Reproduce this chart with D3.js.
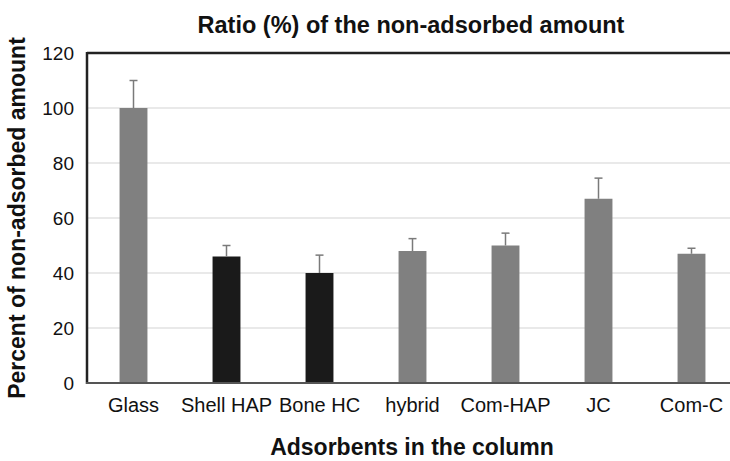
<!DOCTYPE html>
<html><head><meta charset="utf-8">
<script src="https://cdn.jsdelivr.net/npm/d3@7"></script>
<style>body{margin:0;background:#fff}svg{display:block}text{font-family:"Liberation Sans",Arial,sans-serif}</style>
</head><body><svg id="c" width="730" height="461"></svg>
<script>
const categories = ["Glass","Shell HAP","Bone HC","hybrid","Com-HAP","JC","Com-C"];
const values = [100, 46, 40, 48, 50, 67, 47];
const errors = [10, 4, 6.5, 4.5, 4.5, 7.5, 2];
const barColors = ["#808080","#1a1a1a","#1a1a1a","#808080","#808080","#808080","#808080"];
const yTicks = [0,20,40,60,80,100,120];

const svg = d3.select("#c");
const L = 87, R = 738, T = 53, B = 383;
const x = d3.scaleBand().domain(categories).range([L,R]).paddingInner(0.7).paddingOuter(0.35);
const y = d3.scaleLinear().domain([0,120]).range([B,T]);

// gridlines
svg.append("g").selectAll("line").data(yTicks.filter(t=>t>0&&t<120)).join("line")
  .attr("x1",L).attr("x2",730).attr("y1",d=>y(d)).attr("y2",d=>y(d))
  .attr("stroke","#e2e2e2").attr("stroke-width",1.5);

// bars
svg.append("g").selectAll("rect").data(categories).join("rect")
  .attr("x",d=>x(d)).attr("width",x.bandwidth())
  .attr("y",(d,i)=>y(values[i])).attr("height",(d,i)=>B-y(values[i]))
  .attr("fill",(d,i)=>barColors[i]);

// error bars
const eg = svg.append("g").attr("stroke","#7a7a7a").attr("stroke-width",1.5);
categories.forEach((c,i)=>{
  const cx = x(c)+x.bandwidth()/2;
  eg.append("line").attr("x1",cx).attr("x2",cx).attr("y1",y(values[i])).attr("y2",y(values[i]+errors[i]));
  eg.append("line").attr("x1",cx-4).attr("x2",cx+4).attr("y1",y(values[i]+errors[i])).attr("y2",y(values[i]+errors[i]));
});

// frame lines
svg.append("line").attr("x1",L).attr("x2",730).attr("y1",T).attr("y2",T).attr("stroke","#222").attr("stroke-width",2.5);
svg.append("line").attr("x1",L).attr("x2",L).attr("y1",T-1).attr("y2",B+1).attr("stroke","#222").attr("stroke-width",2.5);
svg.append("line").attr("x1",L-1).attr("x2",730).attr("y1",B).attr("y2",B).attr("stroke","#555").attr("stroke-width",2);

// y axis labels
const ya = svg.append("g").attr("transform",`translate(${L-13},0)`)
  .call(d3.axisLeft(y).tickValues(yTicks).tickSize(0).tickPadding(0));
ya.select(".domain").remove();
ya.selectAll("text").attr("font-size",19).attr("fill","#111").attr("dy","0.36em").attr("font-family","Liberation Sans, Arial, sans-serif");

// x axis labels
const xa = svg.append("g").attr("transform",`translate(0,${B})`)
  .call(d3.axisBottom(x).tickSize(0).tickPadding(0));
xa.select(".domain").remove();
xa.selectAll("text").attr("font-size",20).attr("fill","#111").attr("y",29).attr("dy",0).attr("font-family","Liberation Sans, Arial, sans-serif");

// titles
svg.append("text").attr("x",411).attr("y",33).attr("text-anchor","middle")
  .attr("font-size",23.5).attr("font-weight","bold").attr("fill","#111").text("Ratio (%) of the non-adsorbed amount");
svg.append("text").attr("x",412).attr("y",455).attr("text-anchor","middle")
  .attr("font-size",23).attr("font-weight","bold").attr("fill","#111").text("Adsorbents in the column");
svg.append("text").attr("transform","translate(25,218) rotate(-90)").attr("text-anchor","middle")
  .attr("font-size",23).attr("font-weight","bold").attr("fill","#111").text("Percent of non-adsorbed amount");
</script></body></html>
